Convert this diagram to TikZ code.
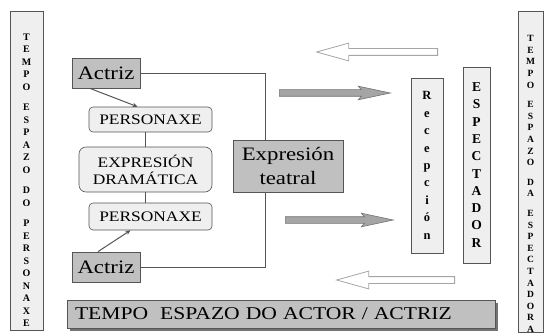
\documentclass[tikz,border=0pt]{standalone}
\usepackage{fontspec}
\setmainfont{Liberation Serif}
\newfontfamily\widefont[FakeStretch=1.2]{Liberation Serif}
\usepackage{xcolor}
\definecolor{boxgray}{RGB}{192,192,192}
\definecolor{palegray}{RGB}{239,239,239}
\definecolor{edgegray}{RGB}{85,85,85}
\definecolor{arrowgray}{RGB}{165,165,165}
\definecolor{shadegray}{RGB}{115,115,115}
\usetikzlibrary{shapes.arrows,arrows.meta,calc,backgrounds}

\begin{document}
\begin{tikzpicture}[
  x=1pt, y=-1pt,
  actor/.style={draw=edgegray, fill=boxgray, line width=0.8pt, minimum width=68pt, minimum height=30pt, inner sep=0pt, font=\widefont\fontsize{19}{20}\selectfont},
  role/.style={draw=edgegray, fill=palegray, rounded corners=4pt, line width=0.6pt, inner sep=0pt, align=center, font=\widefont\fontsize{14.5}{17}\selectfont},
  column/.style={draw=edgegray, fill=palegray, line width=1pt, inner sep=0pt},
  stack/.style={align=center, inner sep=0pt, font=\bfseries\fontsize{10}{12.5}\selectfont},
  hollow/.style={single arrow, draw=arrowgray, fill=white, line width=0.8pt, inner xsep=0pt, inner ysep=3pt, single arrow head extend=5.5pt, single arrow tip angle=31, single arrow head indent=0pt, shape border rotate=180, anchor=tail},
  shaded/.style={single arrow, draw=shadegray, fill=arrowgray, line width=0.6pt, inner xsep=0pt, inner ysep=3pt, single arrow head extend=3.5pt, single arrow tip angle=24, single arrow head indent=3pt, anchor=tail},
  link/.style={-{Stealth[length=5pt,width=4.5pt]}, line width=1pt, color=edgegray}
]
\useasboundingbox (0,0) rectangle (545,334);

% side columns
\node[column, minimum width=33pt, minimum height=318pt] (colP) at (26.5,171) {};
\node[stack] (tempoP) at (26.5,180) {T\\E\\M\\P\\O\\[8pt]E\\S\\P\\A\\Z\\O\\[8pt]D\\O\\[8pt]P\\E\\R\\S\\O\\N\\A\\X\\E};
\node[column, minimum width=25pt, minimum height=320pt] (colE) at (530.5,172) {};
\node[stack, font=\bfseries\fontsize{9.5}{11.6}\selectfont] (tempoE) at (530.5,184) {T\\E\\M\\P\\O\\[8pt]E\\S\\P\\A\\Z\\O\\[8pt]D\\A\\[8pt]E\\S\\P\\E\\C\\T\\A\\D\\O\\R\\A};

% actors and roles
\node[actor] (actrizA) at (106,73) {Actriz};
\node[actor] (actrizB) at (106,267) {Actriz};
\node[role, minimum width=123pt, minimum height=25pt] (persA) at (150.5,119.5) {PERSONAXE};
\node[role, minimum width=133pt, minimum height=45pt, rounded corners=7pt] (exprD) at (145.5,169.5) {EXPRESIÓN\\DRAMÁTICA};
\node[role, minimum width=123pt, minimum height=27pt] (persB) at (150.5,216.5) {PERSONAXE};

\draw[link] ([xshift=-16pt]actrizA.south) -- ([xshift=-13pt]persA.north);
\draw[link] ([xshift=-8pt]actrizB.north) -- ([xshift=-20pt]persB.south);
\draw[edgegray, line width=0.8pt] (exprD.north |- persA.south) -- (exprD.north);
\draw[edgegray, line width=0.8pt] (exprD.south) -- (exprD.south |- persB.north);

% bracket behind the theatre box
\coordinate (brk) at (265,0);
\draw[edgegray, line width=0.8pt] (actrizA.east) -- (actrizA.east -| brk) -- (actrizB.east -| brk) -- (actrizB.east);
\node[actor, minimum width=110pt, minimum height=52pt, align=center, font=\widefont\fontsize{19}{24}\selectfont] (teatral) at (288,166) {Expresión\\teatral};

% spectator side
\node[column, line width=0.8pt, minimum width=32pt, minimum height=175pt, align=center, font=\bfseries\fontsize{12.5}{17.4}\selectfont] (recep) at (427,165.5) {R\\e\\c\\e\\p\\c\\i\\ó\\n};
\node[column, line width=0.8pt, minimum width=27pt, minimum height=196pt, align=center, font=\bfseries\fontsize{13.5}{17.3}\selectfont] (espec) at (476.5,165) {E\\S\\P\\E\\C\\T\\A\\D\\O\\R};

% flow arrows
\node[hollow, minimum height=121pt] (backA) at (438,52) {};
\node[shaded, minimum height=111pt] (flowA) at (279,93) {};
\node[shaded, minimum height=108pt] (flowB) at (285,220) {};
\node[hollow, minimum height=118pt] (backB) at (455,280) {};

% bottom bar
\node[draw=edgegray, fill=boxgray, line width=0.8pt, minimum height=28pt, text width=412pt, inner xsep=8pt, inner ysep=0pt, align=left, font=\widefont\fontsize{18}{20}\selectfont] (tempoA) at (281,314) {TEMPO\ \ ESPAZO DO ACTOR / ACTRIZ};
\begin{scope}[on background layer]
  \fill[shadegray] ($(tempoA.north west)+(3,3)$) rectangle ($(tempoA.south east)+(3,3)$);
\end{scope}
\end{tikzpicture}
\end{document}
